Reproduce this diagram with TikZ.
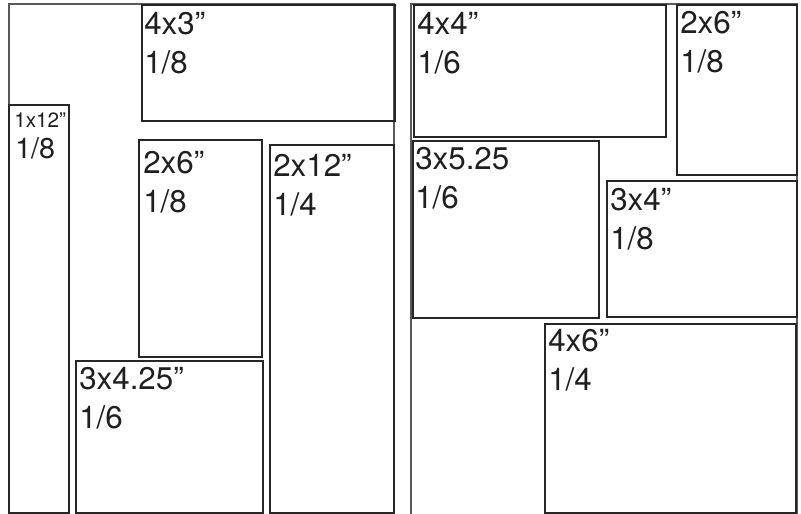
\documentclass[tikz,border=0pt]{standalone}
\usepackage{fontspec}
\setmainfont{TeX Gyre Heros}
\usetikzlibrary{positioning}

\begin{document}
\begin{tikzpicture}[x=0.75pt, y=-0.75pt,
  page/.style={draw=black!65, line width=1.1pt},
  photo/.style={draw=black!85, line width=1.1pt},
  lbl/.style={anchor=north west, align=left, inner sep=0pt, text=black!88,
              font=\fontsize{23.5}{29}\selectfont},
  small/.style={anchor=north west, inner sep=0pt, text=black!88,
              font=\fontsize{15.5}{18}\selectfont},
  mid/.style={anchor=north west, inner sep=0pt, text=black!88,
              font=\fontsize{21.5}{24}\selectfont}]
\useasboundingbox (0,0) rectangle (801,514);
\draw[page] (9,516) -- (9,4) -- (394,4) -- (394,516);
\draw[page] (411,516) -- (411,4) -- (797,4) -- (797,516);
\draw[photo] (142,5) rectangle (395,121);
\draw[photo] (9,105) rectangle (69,513);
\draw[photo] (139,140) rectangle (262,357);
\draw[photo] (270,145) rectangle (394,513);
\draw[photo] (76,361) rectangle (263,513);
\draw[photo] (414,5) rectangle (666,137);
\draw[photo] (677,5) rectangle (797,175);
\draw[photo] (413,141) rectangle (599,318);
\draw[photo] (607,181) rectangle (797,317);
\draw[photo] (545,324) rectangle (796,513);
\node[lbl] (a43) at (144,12) {4x3”\\1/8};
\node[small] (a112) at (14,113) {1x12”};
\node[mid] (a112f) at (15,137) {1/8};
\node[lbl] (a26) at (143,151) {2x6”\\1/8};
\node[lbl] (a212) at (273,154) {2x12”\\1/4};
\node[lbl] (a3425) at (79,367) {3x4.25”\\1/6};
\node[lbl] (b44) at (417,12) {4x4”\\1/6};
\node[lbl] (b26) at (680,11) {2x6”\\1/8};
\node[lbl] (b3525) at (415,147) {3x5.25\\1/6};
\node[lbl] (b34) at (610,188) {3x4”\\1/8};
\node[lbl] (b46) at (548,329) {4x6”\\1/4};
\end{tikzpicture}
\end{document}
